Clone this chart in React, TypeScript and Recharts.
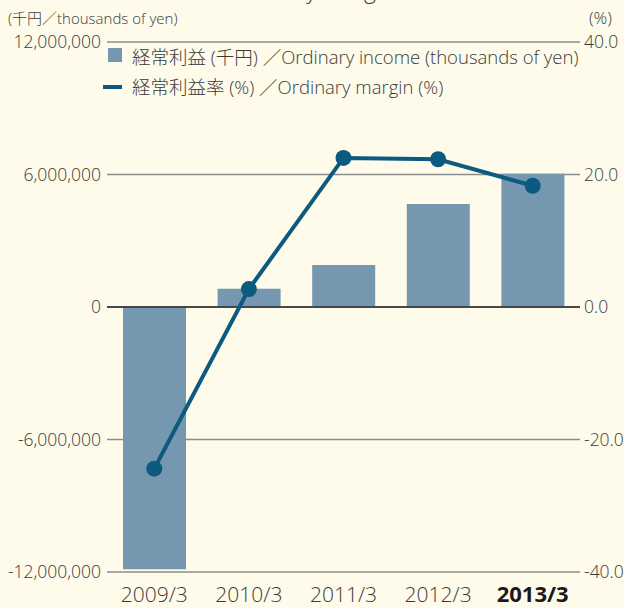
import React from 'react';
import { ComposedChart, Bar, Line, XAxis, YAxis, CartesianGrid, ReferenceLine } from 'recharts';

const categories = ['2009/3', '2010/3', '2011/3', '2012/3', '2013/3'];
const incomeValues = [-11870000, 830000, 1900000, 4660000, 6030000];
const marginValues = [-24.4, 2.7, 22.5, 22.3, 18.3];
const leftTicks = [-12000000, -6000000, 0, 6000000, 12000000];
const rightTicks = [-40, -20, 0, 20, 40];

const data = categories.map((c, i) => ({ cat: c, income: incomeValues[i], margin: marginValues[i] }));

const BG = '#fefbea';
const BAR = '#7597b0';
const LINE = '#0c5a80';
const TXT = '#3a3a3a';
const FONT = '"Open Sans", "Noto Sans CJK JP", sans-serif';

const XTick = (props: any) => {
  const { x, y, payload, index } = props;
  const last = index === categories.length - 1;
  return (
    <text x={x} y={y} dy={22} textAnchor="middle" fontSize={last ? 22 : 21} fontFamily={FONT}
      fontWeight={last ? 700 : 300} fill={last ? '#1a1a1a' : TXT}>
      {payload.value}
    </text>
  );
};

export default function App() {
  return (
    <div style={{ position: 'absolute', left: 0, top: 0, width: 624, height: 608, background: BG, overflow: 'hidden', fontFamily: FONT, fontWeight: 300 }}>
      <svg width={624} height={20} style={{ position: 'absolute', left: 0, top: 0 }}>
        <text x={226} y={-2} fontSize={23} fill={TXT} fontFamily={FONT} fontWeight={300}>Ordinary margin</text>
      </svg>
      <div style={{ position: 'absolute', left: 8, top: 8, fontSize: 15, color: TXT, whiteSpace: 'nowrap', lineHeight: '20px' }}>(千円／thousands of yen)</div>
      <div style={{ position: 'absolute', left: 589, top: 7, fontSize: 17, color: TXT, whiteSpace: 'nowrap', lineHeight: '22px' }}>(%)</div>
      <ComposedChart width={624} height={608} data={data} margin={{ top: 42, right: 0, bottom: 0, left: 0 }}
        barCategoryGap="16%">
        <CartesianGrid horizontal vertical={false} stroke="#8c8c8c" strokeWidth={1.5} yAxisId="left" />
        <XAxis dataKey="cat" height={36} axisLine={false} tickLine={false} tick={<XTick />} interval={0} />
        <YAxis yAxisId="left" width={107} domain={[-12000000, 12000000]} ticks={leftTicks}
          axisLine={false} tickLine={false} tickMargin={0}
          tick={{ fontSize: 17.5, fill: TXT, fontFamily: FONT, fontWeight: 300 }}
          tickFormatter={(v: number) => v.toLocaleString('en-US')} />
        <YAxis yAxisId="right" orientation="right" width={44} domain={[-40, 40]} ticks={rightTicks}
          axisLine={false} tickLine={false} tickSize={4} tickMargin={0}
          tick={{ fontSize: 17.5, fill: TXT, fontFamily: FONT, fontWeight: 300 }}
          tickFormatter={(v: number) => v.toFixed(1)} />
        <ReferenceLine yAxisId="left" y={0} stroke="#2a2a2a" strokeWidth={1.5} />
        <Bar yAxisId="left" dataKey="income" fill={BAR} barSize={63} isAnimationActive={false} />
        <Line yAxisId="right" dataKey="margin" stroke={LINE} strokeWidth={4}
          dot={{ r: 8, fill: LINE, stroke: LINE, strokeWidth: 0 }} isAnimationActive={false} />
      </ComposedChart>
      <div style={{ position: 'absolute', left: 108, top: 48, width: 14, height: 14, background: BAR }} />
      <div style={{ position: 'absolute', left: 132, top: 45, fontSize: 18.5, color: TXT, whiteSpace: 'nowrap', lineHeight: '24px' }}>経常利益 (千円) ／Ordinary income (thousands of yen)</div>
      <div style={{ position: 'absolute', left: 103, top: 85, width: 19, height: 4, background: LINE }} />
      <div style={{ position: 'absolute', left: 132, top: 75, fontSize: 18.5, color: TXT, whiteSpace: 'nowrap', lineHeight: '24px' }}>経常利益率 (%) ／Ordinary margin (%)</div>
    </div>
  );
}
